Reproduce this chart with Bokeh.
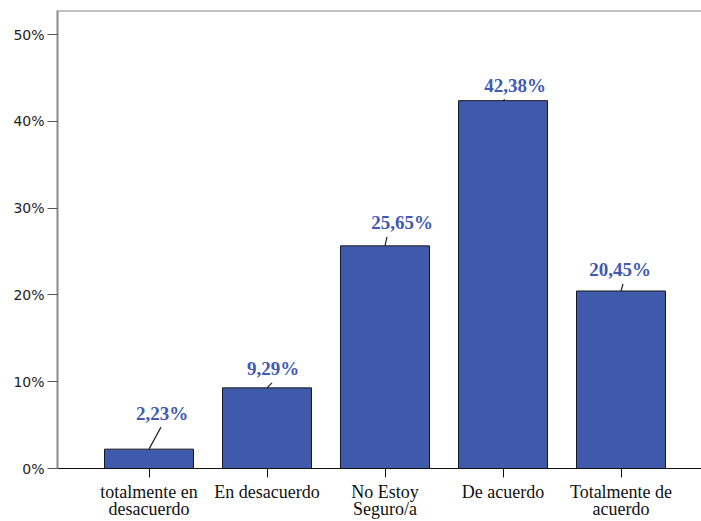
from bokeh.plotting import figure
from bokeh.models import ColumnDataSource, FixedTicker, PrintfTickFormatter, Range1d, Span
from bokeh.core.properties import value
from bokeh.embed import file_html
from bokeh.resources import INLINE

# ---- data ----
categories = ["totalmente en\ndesacuerdo", "En desacuerdo", "No Estoy\nSeguro/a",
              "De acuerdo", "Totalmente de\nacuerdo"]
percentages = [2.23, 9.29, 25.65, 42.38, 20.45]
y_ticks = [0, 10, 20, 30, 40, 50]

# ---- label styling (screen-pixel offsets of value labels) ----
label_dx_px = [13, 6, 17, 12, -1]
label_dy_px = [36, 19, 23, 15, 21]
leader_dx_px = [12, 5, 2, 2, 2]

PX_PER_X = 118.0
PX_PER_Y = 8.68
X_START = -91.5 / PX_PER_X
FRAME_W = 644
FRAME_H = 458
X_END = X_START + FRAME_W / PX_PER_X
Y_END = FRAME_H / PX_PER_Y

idx = list(range(len(categories)))
texts = [f"{v:.2f}%".replace(".", ",") for v in percentages]
lx = [i + dx / PX_PER_X for i, dx in zip(idx, label_dx_px)]
ly = [v + dy / PX_PER_Y for v, dy in zip(percentages, label_dy_px)]
sx0 = idx
sy0 = percentages
sx1 = [i + d / PX_PER_X for i, d in zip(idx, leader_dx_px)]
sy1 = [v + max(dy - 14, 1) / PX_PER_Y for v, dy in zip(percentages, label_dy_px)]

src = ColumnDataSource(dict(x=idx, top=percentages, lx=lx, ly=ly, text=texts,
                            sx0=sx0, sy0=sy0, sx1=sx1, sy1=sy1))

p = figure(width=701, height=521, output_backend="svg", toolbar_location=None,
           x_range=Range1d(X_START, X_END), y_range=Range1d(0, Y_END),
           min_border_left=57, min_border_right=0, min_border_top=10, min_border_bottom=53)
p.outline_line_color = None
p.xgrid.visible = False
p.ygrid.visible = False
p.background_fill_color = "white"

p.vbar(x="x", top="top", width=0.754, bottom=0, source=src,
       fill_color="#3f59ab", line_color="#1a1a1a", line_width=1)
p.segment(x0="sx0", y0="sy0", x1="sx1", y1="sy1", source=src,
          line_color="#222222", line_width=1.2)
p.text(x="lx", y="ly", text="text", source=src,
       text_font=value("Liberation Serif"), text_font_style="bold",
       text_font_size="19px", text_align="center", text_baseline="middle",
       text_color="#4159b3")

p.add_layout(Span(location=Y_END, dimension="width", line_color="#8a8a8a", line_width=2))

# y axis
ya = p.yaxis[0]
ya.ticker = FixedTicker(ticks=y_ticks)
ya.formatter = PrintfTickFormatter(format="%d%%")
ya.minor_tick_line_color = None
ya.major_tick_out = 10
ya.major_tick_in = 0
ya.axis_line_color = "#8a8a8a"
ya.axis_line_width = 2
ya.major_tick_line_color = "#555555"
ya.major_label_standoff = 3
ya.major_label_text_font = "DejaVu Sans"
ya.major_label_text_font_size = "14px"
ya.major_label_text_color = "#222222"

# x axis
xa = p.xaxis[0]
xa.ticker = FixedTicker(ticks=idx)
xa.major_label_overrides = {i: c for i, c in zip(idx, categories)}
xa.minor_tick_line_color = None
xa.major_tick_out = 9
xa.major_tick_in = 0
xa.axis_line_color = "#111111"
xa.axis_line_width = 1.2
xa.major_tick_line_color = "#111111"
xa.major_label_standoff = 4
xa.major_label_text_font = "'Liberation Serif', serif"
xa.major_label_text_font_size = "18px"
xa.major_label_text_color = "#111111"
xa.major_label_text_line_height = 0.85

open("out.html", "w").write(file_html(p, INLINE))
